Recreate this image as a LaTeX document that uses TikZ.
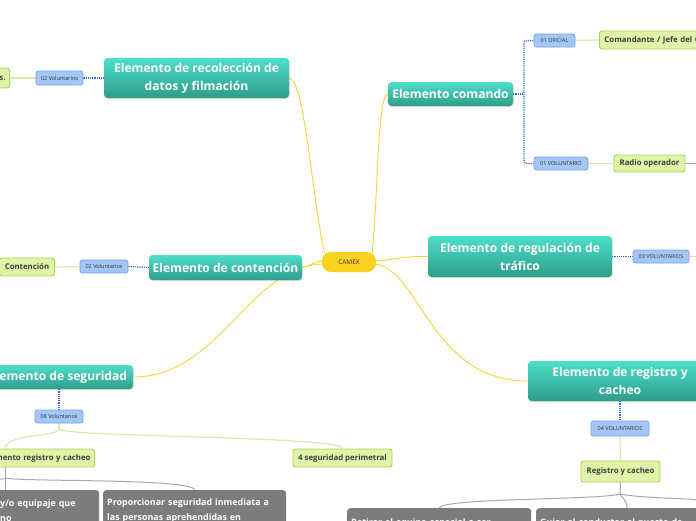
\documentclass[tikz,border=0pt]{standalone}
\usepackage{fontspec}
\setmainfont{Open Sans}
\usetikzlibrary{calc,shadows}
\pgfdeclarelayer{bg}
\pgfsetlayers{bg,main}
\definecolor{tealtop}{HTML}{4DDFC9}
\definecolor{tealbot}{HTML}{2E9C8A}
\definecolor{camexy}{HTML}{FAD21F}
\definecolor{bluefill}{HTML}{A5C7F8}
\definecolor{blueline}{HTML}{74A2EE}
\definecolor{bluedotc}{HTML}{2F6BDB}
\definecolor{greenfill}{HTML}{DFF4A6}
\definecolor{greenline}{HTML}{A9D35B}
\definecolor{greenconn}{HTML}{D5EAA6}
\definecolor{grayfill}{HTML}{7C7C7E}
\definecolor{grayconn}{HTML}{A8A8A8}
\definecolor{yline}{HTML}{F7D337}
\tikzset{
 topic/.style={rounded corners=3.5pt, top color=tealtop, bottom color=tealbot, draw=none,
   text=white, font=\fontsize{12.1}{18}\selectfont\bfseries, align=center, inner sep=0pt,
   drop shadow={shadow xshift=0.6pt, shadow yshift=-1pt, opacity=0.25}},
 central/.style={rounded corners=9pt, fill=camexy, draw=none, font=\fontsize{6.5}{8}\selectfont,
   text=black!80, minimum width=54pt, minimum height=20pt, inner sep=0pt},
 bluebox/.style={rounded corners=2.5pt, fill=bluefill, draw=blueline, line width=0.8pt,
   font=\fontsize{5.5}{6}\selectfont, text=black!80, inner sep=0pt},
 greenbox/.style={rounded corners=2.5pt, fill=greenfill, draw=greenline, line width=0.9pt,
   font=\fontsize{7.8}{9}\selectfont\bfseries, text=black!75, inner sep=0pt},
 graybox/.style={rounded corners=3pt, fill=grayfill, draw=none, text=white,
   font=\fontsize{8.9}{15}\selectfont\bfseries, align=left, inner xsep=4pt, inner ysep=5pt, anchor=north west},
 yconn/.style={draw=yline, line width=0.9pt},
 bconn/.style={draw=bluedotc, line width=1.2pt, densely dotted},
 gconn/.style={draw=greenconn, line width=1.2pt},
 grconn/.style={draw=grayconn, line width=1pt},
}
\begin{document}
\begin{tikzpicture}[x=1pt,y=-1pt]
\useasboundingbox (0,0) rectangle (696,520);
\clip (0,0) rectangle (696,520);
% central
\node[central] (camex) at (349,262) {CAMEX};
% topics
\node[topic, minimum width=185pt, minimum height=40pt] (rec) at (196.5,78) {Elemento de recolección de\\datos y filmación};
\node[topic, minimum width=125pt, minimum height=24pt] (com) at (450.5,94) {Elemento comando};
\node[topic, minimum width=184pt, minimum height=41pt] (reg) at (520,256.5) {Elemento de regulación de\\tráfico};
\node[topic, minimum width=153pt, minimum height=25pt] (cont) at (225.5,267.5) {Elemento de contención};
\node[topic, minimum width=150pt, minimum height=24pt] (seg) at (58,377) {Elemento de seguridad};
\node[topic, minimum width=184pt, minimum height=40pt] (cach) at (620,381) {Elemento de registro y\\cacheo};
% blue labels
\node[bluebox, minimum width=47pt, minimum height=14pt] (v1) at (59.5,78) {02 Voluntarios};
\node[bluebox, minimum width=41pt, minimum height=13pt] (of) at (554.5,40.5) {01 OFICIAL};
\node[bluebox, minimum width=54pt, minimum height=13pt] (vo) at (561,163.5) {01 VOLUNTARIO};
\node[bluebox, minimum width=56pt, minimum height=13pt] (v3) at (661,256.5) {03 VOLUNTARIOS};
\node[bluebox, minimum width=48pt, minimum height=13pt] (v2) at (104,266.5) {02 Voluntarios};
\node[bluebox, minimum width=48pt, minimum height=13pt] (v8) at (59,416.5) {08 Voluntarios};
\node[bluebox, minimum width=58pt, minimum height=15pt] (v4) at (620,428.5) {04 VOLUNTARIOS};
% green boxes
\node[greenbox, anchor=east, minimum height=20pt, text width=22pt, align=right, inner xsep=4pt] (g1) at (10,78) {s.};
\node[greenbox, anchor=west, minimum height=18pt, text width=120pt, align=left, inner xsep=5pt] (cmd) at (599,40) {Comandante / Jefe del C};
\node[greenbox, minimum width=71pt, minimum height=17pt] (radio) at (649.5,163.5) {Radio operador};
\node[greenbox, minimum width=55pt, minimum height=18pt] (gcont) at (27,267) {Contención};
\node[greenbox, anchor=east, minimum height=18pt, text width=100pt, align=right, inner xsep=4pt] (sreg) at (95,458) {mento registro y cacheo};
\node[greenbox, minimum width=99pt, minimum height=18pt] (per) at (342.5,458) {4 seguridad perimetral};
\node[greenbox, minimum width=79pt, minimum height=21pt] (rc) at (620.5,471.5) {Registro y cacheo};
% gray boxes
\node[graybox, text width=95pt, minimum height=40pt] (gb1) at (-4,490) {y/o equipaje que\\no};
\node[graybox, text width=175pt, minimum height=40pt] (gb2) at (103,490) {Proporcionar seguridad inmediata a\\las personas aprehendidas en};
\node[graybox, text width=176pt, minimum height=30pt] (gb3) at (347,508) {Retirar el equipo especial a ser};
\node[graybox, text width=176pt, minimum height=30pt] (gb4) at (536,508) {Guiar al conductor al puesto de};
% helper coordinates
\coordinate (cb) at (524,94);
\coordinate (s8) at (59,429);
\coordinate (sg) at (5,478);
\coordinate (sr) at (620,494);
\begin{pgfonlayer}{bg}
% yellow links
\draw[yconn] (rec.east) .. controls (305,80) and (312,200) .. ($(camex.north west)+(3,2)$);
\draw[yconn] (com.west) .. controls (377,96) and (378,200) .. ($(camex.north east)+(-4,1)$);
\draw[yconn] ($(camex.east)+(-1,-1)$) .. controls (400,259) and (405,256) .. (reg.west);
\draw[yconn] ($(camex.east)+(-2,2)$) .. controls (420,268) and (430,381) .. (cach.west);
\draw[yconn] ($(camex.west)+(1,-1)$) .. controls (312,262) and (312,266) .. (cont.east);
\draw[yconn] ($(camex.west)+(1,2)$) .. controls (250,265) and (220,377) .. (seg.east);
% blue dotted
\draw[bconn] (v1.east) -- (rec.west);
\draw[bconn] (com.east) -- (cb);
\draw[bconn, rounded corners=3pt] (of.west) -| (cb) |- (vo.west);
\draw[bconn] (reg.east) -- (v3.west);
\draw[bconn] (v2.east) -- (cont.west);
\draw[bconn] (v8.north |- seg.south) -- (v8.north);
\draw[bconn] (v4.north |- cach.south) -- (v4.north);
% green links
\draw[gconn] (g1.east) -- (v1.west);
\draw[gconn] (of.east) -- (cmd.west);
\draw[gconn] (vo.east) -- (radio.west);
\draw[gconn] (v3.east) -- ++(12,0);
\draw[gconn] (gcont.east) -- (v2.west);
\draw[gconn] (v4.south) -- (rc.north);
\draw[gconn] (v8.south) -- (s8);
\draw[gconn] (s8) .. controls (59,437) and (7,433) .. (sreg.north -| sg);
\draw[gconn] (s8) .. controls (59,437) and (343,436) .. (per.north);
% gray links
\draw[grconn] (radio.east) -- ++(15,0);
\draw[grconn] (sreg.south -| sg) -- (sg);
\draw[grconn] (sg) -- (gb1.north -| sg);
\draw[grconn] (sg) .. controls (10,480) and (-5,478) .. (-12,480);
\draw[grconn] (sg) .. controls (20,482) and (193,478) .. (gb2.north);
\draw[grconn] (rc.south) -- (sr);
\draw[grconn] (sr) .. controls (600,500) and (440,498) .. (gb3.north);
\draw[grconn] (sr) .. controls (622,498) and (627,500) .. ($(gb4.north west)+(91,0)$);
\draw[grconn] (sr) .. controls (640,498) and (680,498) .. (700,500);
\end{pgfonlayer}
\end{tikzpicture}
\end{document}
